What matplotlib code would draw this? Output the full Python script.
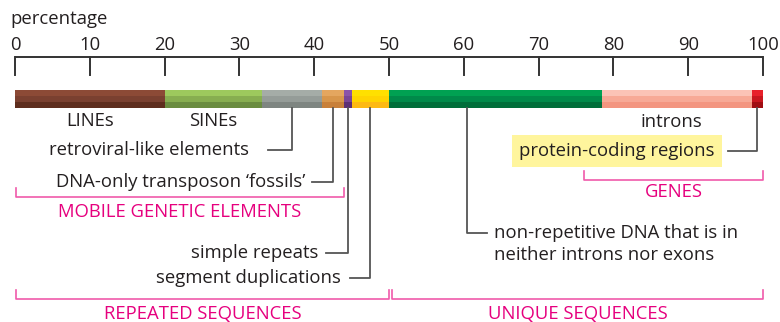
import matplotlib.pyplot as plt
import numpy as np

plt.rcParams['font.family'] = ['Open Sans', 'DejaVu Sans']

# 基因组组成（百分比）
segments = ['LINEs', 'SINEs', 'retroviral-like elements', "DNA-only transposon \u2018fossils\u2019",
            'simple repeats', 'segment duplications',
            'non-repetitive DNA that is in\nneither introns nor exons', 'introns', 'protein-coding regions']
shares = [20, 13, 8, 3, 1, 5, 28.5, 20, 1.5]
# 每段三种色调：上、中、下
tone_top = ['#8c4a36', '#9dc95d', '#a5aca7', '#e4a65f', '#8b53a9', '#ffe000', '#00a152', '#fbc3b6', '#e8202a']
tone_mid = ['#7a4030', '#87ae50', '#959c98', '#d8964b', '#7a4596', '#ffd400', '#008a4a', '#f7a996', '#c8161e']
tone_bot = ['#5e2d1e', '#6a8c40', '#7e8581', '#c8803a', '#5c2f75', '#fdb913', '#006e3a', '#f39580', '#a00d12']

ticks = [0, 10, 20, 30, 40, 50, 60, 70, 80, 90, 100]

ink = '#231f20'
magenta = '#e6007e'
bracket_col = '#f05aaa'
leader_col = '#555555'

fig = plt.figure(figsize=(7.8, 3.22), dpi=100)
ax = fig.add_axes([0, 0, 1, 1])
ax.set_xlim(-15 / 7.48, 765 / 7.48)
ax.set_ylim(322, 0)
ax.axis('off')

fs = 13.3

# 刻度轴
ax.text(-0.6, 19, 'percentage', fontsize=fs, color=ink, va='center', ha='left')
ax.plot([0, 100], [57, 57], color='#333333', lw=1.4, solid_capstyle='butt')
for t in ticks:
    ax.plot([t, t], [57, 75], color='#333333', lw=1.4)
    ax.text(t, 45, str(t), fontsize=fs, color=ink, ha='center', va='center')

# 堆叠条
left = np.concatenate([[0], np.cumsum(shares)[:-1]])
ax.barh(93, shares, left=left, height=6, color=tone_top, linewidth=0)
ax.barh(99, shares, left=left, height=6, color=tone_mid, linewidth=0)
ax.barh(105, shares, left=left, height=6, color=tone_bot, linewidth=0)
centers = left + np.array(shares) / 2

# 标签
ax.text(centers[0], 121, segments[0], fontsize=fs, color=ink, ha='center', va='center')
ax.text(centers[1], 121, segments[1], fontsize=fs, color=ink, ha='center', va='center')
ax.text(87.7, 122, segments[7], fontsize=fs, color=ink, ha='center', va='center')


def leader(xa, y, xend, xtext, text, side='left'):
    ax.plot([xa, xa, xend], [108, y, y], color=leader_col, lw=1.3)
    if side == 'left':
        ax.text(xtext, y, text, fontsize=fs, color=ink, ha='right', va='center')
    else:
        ax.text(xtext, y + 11, text, fontsize=fs, color=ink, ha='left', va='center', linespacing=1.25)


leader(centers[2], 150, 33.8, 31.3, segments[2])
leader(centers[3], 182, 39.7, 38.8, segments[3])
leader(centers[4], 253, 41.6, 40.5, segments[4])
leader(centers[5], 278, 44.8, 43.6, segments[5])
leader(60.4, 233, 63.1, 64.0, segments[6], side='right')

# 蛋白编码区（黄底）
ax.plot([centers[8], centers[8], 95.3], [108, 151, 151], color=leader_col, lw=1.3)
ax.text(80.5, 151, segments[8], fontsize=fs, color=ink, ha='center', va='center',
        bbox=dict(boxstyle='square,pad=0.4', fc='#fff59d', ec='none'))


def bracket(x0, x1, y, label, ly):
    ax.plot([x0, x0, x1, x1], [y - 9, y, y, y - 9], color=bracket_col, lw=1.2)
    ax.text((x0 + x1) / 2, ly, label, fontsize=fs, color=magenta, ha='center', va='center')


bracket(0.1, 44.0, 197, 'MOBILE GENETIC ELEMENTS', 212)
bracket(0.1, 50.0, 299, 'REPEATED SEQUENCES', 314)
bracket(50.4, 100, 299, 'UNIQUE SEQUENCES', 314)
bracket(76.1, 100, 180, 'GENES', 192)

fig.savefig('out.png', dpi=100)
